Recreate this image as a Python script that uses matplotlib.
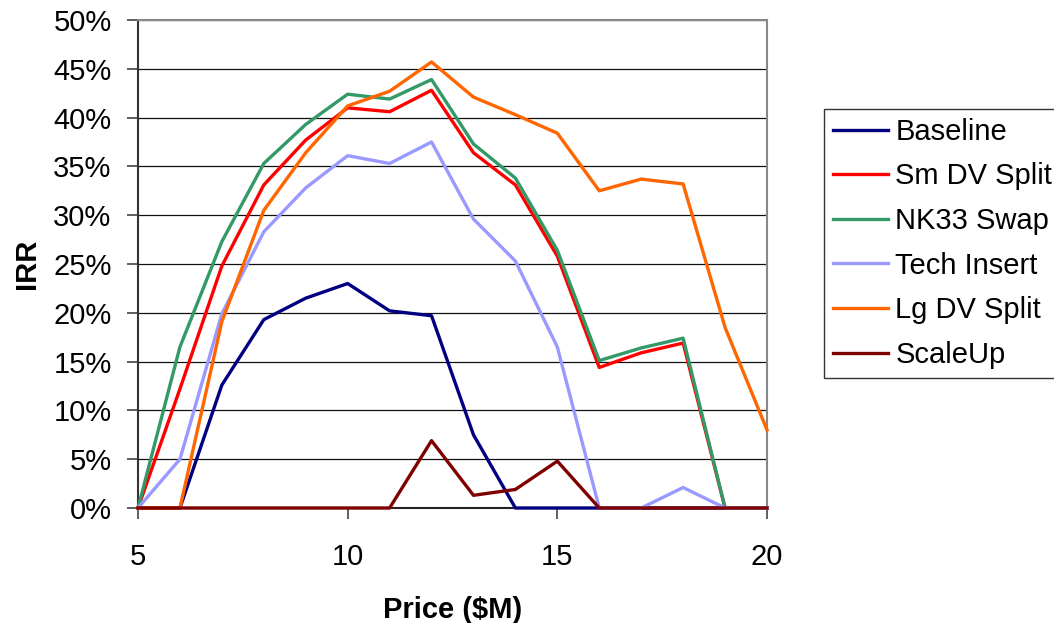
import matplotlib
matplotlib.use("Agg")
import matplotlib.pyplot as plt
from matplotlib.ticker import FuncFormatter

plt.rcParams['font.family'] = ['Liberation Sans', 'DejaVu Sans']

# price points ($M)
price = [5, 6, 7, 8, 9, 10, 11, 12, 13, 14, 15, 16, 17, 18, 19, 20]

# IRR in percent
baseline   = [0, 0, 12.6, 19.3, 21.5, 23.0, 20.2, 19.7, 7.5, 0, 0, 0, 0, 0, 0, 0]
sm_dv      = [0, 12.2, 24.8, 33.1, 37.7, 41.0, 40.6, 42.8, 36.4, 33.1, 25.8, 14.4, 15.9, 16.9, 0, 0]
nk33       = [0, 16.5, 27.3, 35.3, 39.3, 42.4, 41.9, 43.9, 37.3, 33.8, 26.4, 15.1, 16.4, 17.4, 0, 0]
tech       = [0, 5.0, 19.9, 28.3, 32.8, 36.1, 35.3, 37.5, 29.6, 25.3, 16.5, 0, 0, 2.1, 0, 0]
lg_dv      = [0, 0, 19.1, 30.5, 36.4, 41.2, 42.7, 45.7, 42.1, 40.3, 38.4, 32.5, 33.7, 33.2, 18.5, 8.0]
scaleup    = [0, 0, 0, 0, 0, 0, 0, 6.9, 1.3, 1.9, 4.8, 0, 0, 0, 0, 0]

names = ['Baseline', 'Sm DV Split', 'NK33 Swap', 'Tech Insert', 'Lg DV Split', 'ScaleUp']
colors = ['#000080', '#FF0000', '#339966', '#9999FF', '#FF6600', '#800000']
series = [baseline, sm_dv, nk33, tech, lg_dv, scaleup]

fig = plt.figure(figsize=(10.54, 6.23), dpi=100)
ax = fig.add_axes([138/1054, 1-508/623, (767-138)/1054, (508-20)/623])

for vals, name, c in zip(series, names, colors):
    ax.plot(price, vals, color=c, lw=2.4, label=name, clip_on=False, zorder=3)

ax.set_xlim(5, 20)
ax.set_ylim(0, 50)
ax.set_xticks([5, 10, 15, 20])
ax.set_yticks(range(0, 51, 5))
ax.yaxis.set_major_formatter(FuncFormatter(lambda v, p: '%d%%' % v))
ax.grid(axis='y', color='#111111', lw=0.9, zorder=1)

ax.tick_params(axis='both', labelsize=21, colors='#444444', labelcolor='black', width=1.2)
ax.tick_params(axis='x', length=8, pad=17)
ax.tick_params(axis='y', length=8, pad=11)

ax.spines['left'].set_color('#333333')
ax.spines['bottom'].set_color('#222222')
ax.spines['top'].set_color('#888888')
ax.spines['right'].set_color('#888888')
for s in ax.spines.values():
    s.set_linewidth(1.5)

ax.set_xlabel('Price ($M)', fontsize=21, fontweight='bold', labelpad=18)
ax.set_ylabel('IRR', fontsize=21, fontweight='bold', labelpad=9)

leg = fig.legend(loc='upper left', bbox_to_anchor=(824/1054, 1-109/623),
                 fontsize=21, frameon=True, fancybox=False, handlelength=1.9,
                 handletextpad=0.25, labelspacing=0.57, borderpad=0.3,
                 borderaxespad=0)
leg.get_frame().set_edgecolor('black')
leg.get_frame().set_linewidth(1.0)

fig.savefig('out.png', dpi=100)
